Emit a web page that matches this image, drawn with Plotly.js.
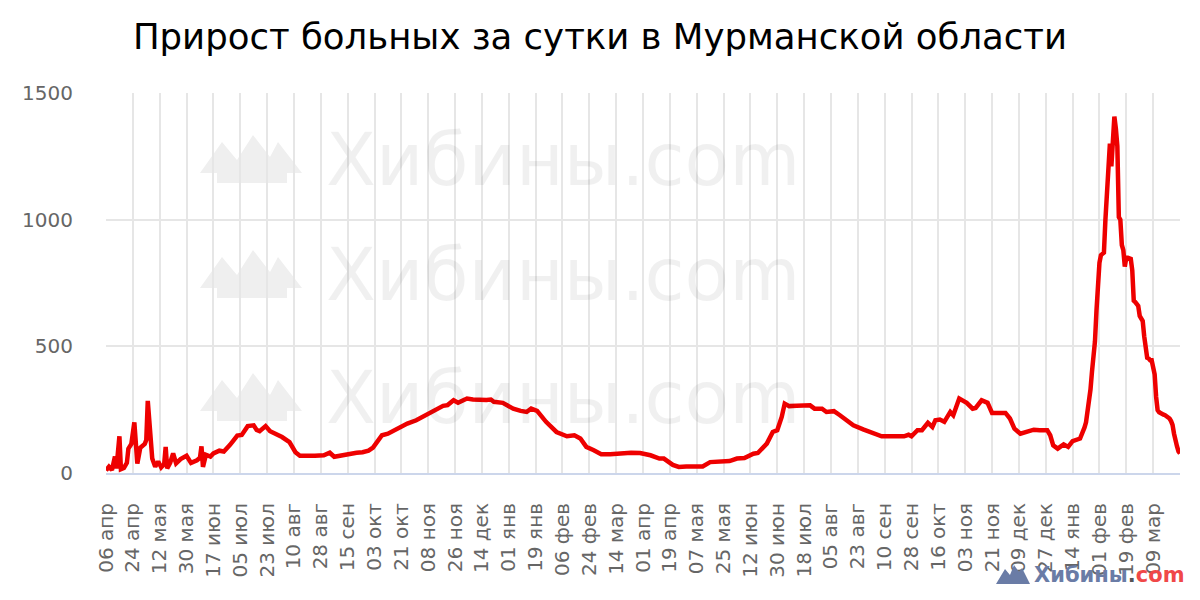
<!DOCTYPE html>
<html>
<head>
<meta charset="utf-8">
<script src="https://cdn.plot.ly/plotly-3.0.1.min.js"></script>
<style>
html,body{margin:0;padding:0;background:#fff;}
#chart{width:1200px;height:600px;}
</style>
</head>
<body>
<div id="chart"></div>
<script>
const dates = [
'2020-04-06','2020-04-08','2020-04-10','2020-04-12','2020-04-13','2020-04-15','2020-04-16','2020-04-18','2020-04-20','2020-04-21',
'2020-04-23','2020-04-25','2020-04-27','2020-04-29','2020-05-02','2020-05-03','2020-05-04','2020-05-06','2020-05-07','2020-05-09',
'2020-05-11','2020-05-13','2020-05-15','2020-05-16','2020-05-17','2020-05-19','2020-05-21','2020-05-23','2020-05-26','2020-05-30',
'2020-06-02','2020-06-06','2020-06-08','2020-06-09','2020-06-10','2020-06-12','2020-06-15','2020-06-17','2020-06-21','2020-06-24',
'2020-06-26','2020-06-28','2020-06-30','2020-07-03','2020-07-06','2020-07-08','2020-07-10','2020-07-14','2020-07-16','2020-07-18',
'2020-07-22','2020-07-25','2020-07-29','2020-08-02','2020-08-07','2020-08-11','2020-08-14','2020-08-18','2020-08-24','2020-08-30',
'2020-09-03','2020-09-06','2020-09-11','2020-09-16','2020-09-21','2020-09-25','2020-09-29','2020-10-02','2020-10-05','2020-10-08',
'2020-10-12','2020-10-16','2020-10-20','2020-10-25','2020-10-31','2020-11-06','2020-11-10','2020-11-14','2020-11-18','2020-11-21',
'2020-11-25','2020-11-28','2020-12-04','2020-12-08','2020-12-13','2020-12-17','2020-12-20','2020-12-22','2020-12-28','2021-01-04',
'2021-01-09','2021-01-13','2021-01-16','2021-01-20','2021-01-26','2021-02-02','2021-02-09','2021-02-14','2021-02-18','2021-02-22',
'2021-02-27','2021-03-04','2021-03-10','2021-03-19','2021-03-24','2021-03-30','2021-04-06','2021-04-12','2021-04-15','2021-04-21',
'2021-04-25','2021-04-30','2021-05-07','2021-05-11','2021-05-16','2021-05-23','2021-05-29','2021-06-03','2021-06-08','2021-06-14',
'2021-06-17','2021-06-23','2021-06-27','2021-06-30','2021-07-03','2021-07-05','2021-07-08','2021-07-13','2021-07-18','2021-07-22',
'2021-07-25','2021-07-30','2021-08-02','2021-08-07','2021-08-11','2021-08-16','2021-08-20','2021-08-27','2021-09-03','2021-09-08',
'2021-09-16','2021-09-23','2021-09-26','2021-09-28','2021-10-02','2021-10-05','2021-10-09','2021-10-12','2021-10-14','2021-10-17',
'2021-10-20','2021-10-24','2021-10-26','2021-10-30','2021-11-04','2021-11-08','2021-11-10','2021-11-14','2021-11-18','2021-11-21',
'2021-11-27','2021-11-30','2021-12-03','2021-12-06','2021-12-10','2021-12-14','2021-12-19','2021-12-23','2021-12-28','2021-12-30',
'2022-01-01','2022-01-04','2022-01-08','2022-01-11','2022-01-14','2022-01-19','2022-01-21','2022-01-22','2022-01-23','2022-01-24',
'2022-01-25','2022-01-26','2022-01-27','2022-01-28','2022-01-29','2022-01-30','2022-01-31','2022-02-01','2022-02-02','2022-02-03',
'2022-02-04','2022-02-05','2022-02-06','2022-02-07','2022-02-08','2022-02-09','2022-02-10','2022-02-11','2022-02-12','2022-02-13',
'2022-02-14','2022-02-15','2022-02-16','2022-02-17','2022-02-18','2022-02-19','2022-02-20','2022-02-21','2022-02-22','2022-02-23',
'2022-02-24','2022-02-25','2022-02-26','2022-02-27','2022-02-28','2022-03-01','2022-03-02','2022-03-03','2022-03-04','2022-03-05',
'2022-03-06','2022-03-07','2022-03-08','2022-03-09','2022-03-10','2022-03-11','2022-03-12','2022-03-13','2022-03-14','2022-03-15',
'2022-03-16','2022-03-17','2022-03-18','2022-03-19','2022-03-20','2022-03-21','2022-03-22','2022-03-23','2022-03-24','2022-03-25',
'2022-03-26','2022-03-27'
];
const cases = [
10,25,12,65,18,145,15,20,40,96,
115,200,37,100,115,130,285,136,57,25,
45,22,35,103,18,40,77,38,55,68,
40,50,60,105,24,72,65,77,88,85,
96,110,125,148,150,172,185,188,170,165,
185,165,155,142,122,82,68,67,68,70,
80,64,70,74,80,82,88,100,125,149,
155,168,178,195,208,228,240,254,265,268,
287,277,294,290,287,288,290,281,277,254,
245,241,254,245,202,162,145,149,136,103,
90,74,74,79,80,79,70,57,57,32,
24,26,24,26,43,47,47,57,59,76,
79,116,162,169,221,274,264,265,267,267,
254,254,241,244,228,208,188,171,158,145,
145,145,151,145,169,169,198,182,208,211,
202,241,228,294,277,254,257,287,277,237,
237,237,215,175,155,162,171,169,169,149,
109,96,113,103,126,136,160,180,200,240,
280,330,400,460,520,640,780,830,860,865,
870,1000,1120,1160,1300,1210,1350,1407,1360,1290,
1010,1000,900,880,815,850,850,845,845,800,
680,675,670,660,620,605,600,540,490,455,
452,445,445,420,390,300,248,240,235,232,
230,228,225,220,215,205,190,155,120,105,
85,77
];
const tickDates = [
'2020-04-06','2020-04-24','2020-05-12','2020-05-30','2020-06-17','2020-07-05','2020-07-23','2020-08-10','2020-08-28','2020-09-15',
'2020-10-03','2020-10-21','2020-11-08','2020-11-26','2020-12-14','2021-01-01','2021-01-19','2021-02-06','2021-02-24','2021-03-14',
'2021-04-01','2021-04-19','2021-05-07','2021-05-25','2021-06-12','2021-06-30','2021-07-18','2021-08-05','2021-08-23','2021-09-10',
'2021-09-28','2021-10-16','2021-11-03','2021-11-21','2021-12-09','2021-12-27','2022-01-14','2022-02-01','2022-02-19','2022-03-09'
];
const tickLabels = [
'06 апр','24 апр','12 мая','30 мая','17 июн','05 июл','23 июл','10 авг','28 авг','15 сен',
'03 окт','21 окт','08 ноя','26 ноя','14 дек','01 янв','19 янв','06 фев','24 фев','14 мар',
'01 апр','19 апр','07 мая','25 мая','12 июн','30 июн','18 июл','05 авг','23 авг','10 сен',
'28 сен','16 окт','03 ноя','21 ноя','09 дек','27 дек','14 янв','01 фев','19 фев','09 мар'
];
const yTicks = [0, 500, 1000, 1500];
const titleText = 'Прирост больных за сутки в Мурманской области';
const watermarkText = 'Хибины.com';

// page geometry (pixels) for decorative items
const L = 106, R = 20, T = 93, B = 127;
const W = 1200 - L - R, H = 600 - T - B;
const px = x => (x - L) / W;
const py = y => (600 - B - y) / H;
function pathFrom(pts) {
  return 'M ' + pts.map(p => px(p[0]).toFixed(5) + ',' + py(p[1]).toFixed(5)).join(' L ') + ' Z';
}
function mountain(x0, y0, s) {
  const rel = [[0,38],[22,7],[37,25],[53,0],[70,22],[78,7],[102,38],[87,38],[87,48],[17,48],[17,38]];
  return pathFrom(rel.map(p => [x0 + p[0]*s, y0 + p[1]*s]));
}

const wmRows = [135, 250, 373];
const shapes = wmRows.map(y0 => ({
  type: 'path', xref: 'paper', yref: 'paper', path: mountain(200, y0, 1),
  fillcolor: '#efefef', line: {width: 0}, layer: 'below'
}));
shapes.push({
  type: 'path', xref: 'paper', yref: 'paper',
  path: pathFrom([[996,584],[1005,569],[1010,575],[1014,565],[1019,572],[1022,568],[1030,584]]),
  fillcolor: '#6a7ca6', line: {width: 0}, layer: 'above'
});

const annotations = wmRows.map(y0 => ({
  xref: 'paper', yref: 'paper', x: px(324), y: py(y0 + 24), xanchor: 'left', yanchor: 'middle',
  text: watermarkText, showarrow: false,
  font: {family: 'DejaVu Sans', size: 73, color: 'rgba(0,0,0,0.058)'}
}));
annotations.push({
  xref: 'paper', yref: 'paper', x: px(1032), y: py(575), xanchor: 'left', yanchor: 'middle',
  text: '<b><span style="color:#6a7ca6">Хибины</span><span style="color:#555">.</span><span style="color:#f04848">com</span></b>',
  showarrow: false, font: {family: 'DejaVu Sans', size: 21, color: '#6a7ca6'}
});

const trace = {
  x: dates, y: cases, type: 'scatter', mode: 'lines',
  line: {color: '#ee0000', width: 4.5}, hoverinfo: 'skip'
};

const layout = {
  width: 1200, height: 600,
  margin: {l: L, r: R, t: T, b: B},
  paper_bgcolor: '#ffffff', plot_bgcolor: 'rgba(0,0,0,0)',
  showlegend: false,
  font: {family: 'DejaVu Sans', color: '#666666'},
  title: {text: titleText, font: {family: 'DejaVu Sans', size: 35.5, color: '#000000'},
          xref: 'container', x: 0.5, xanchor: 'center', yref: 'container', y: 1 - 37/600, yanchor: 'middle'},
  xaxis: {
    type: 'date', range: ['2020-04-06', '2022-03-27'],
    tickmode: 'array', tickvals: tickDates, ticktext: tickLabels, tickangle: -90,
    tickfont: {family: 'DejaVu Sans', size: 20, color: '#666666'},
    ticks: 'outside', ticklen: 20, tickcolor: 'rgba(0,0,0,0)',
    showgrid: true, gridcolor: '#e6e6e6', gridwidth: 2,
    showline: true, linecolor: '#ccd6eb', linewidth: 2, zeroline: false, fixedrange: true
  },
  yaxis: {
    range: [0, 1500], tickmode: 'array', tickvals: yTicks,
    tickfont: {family: 'DejaVu Sans', size: 20, color: '#666666'},
    ticks: 'outside', ticklen: 28, tickcolor: 'rgba(0,0,0,0)',
    showgrid: true, gridcolor: '#e6e6e6', gridwidth: 2,
    showline: false, zeroline: false, fixedrange: true
  },
  shapes: shapes,
  annotations: annotations
};

Plotly.newPlot('chart', [trace], layout, {displayModeBar: false, staticPlot: true});
</script>
</body>
</html>
